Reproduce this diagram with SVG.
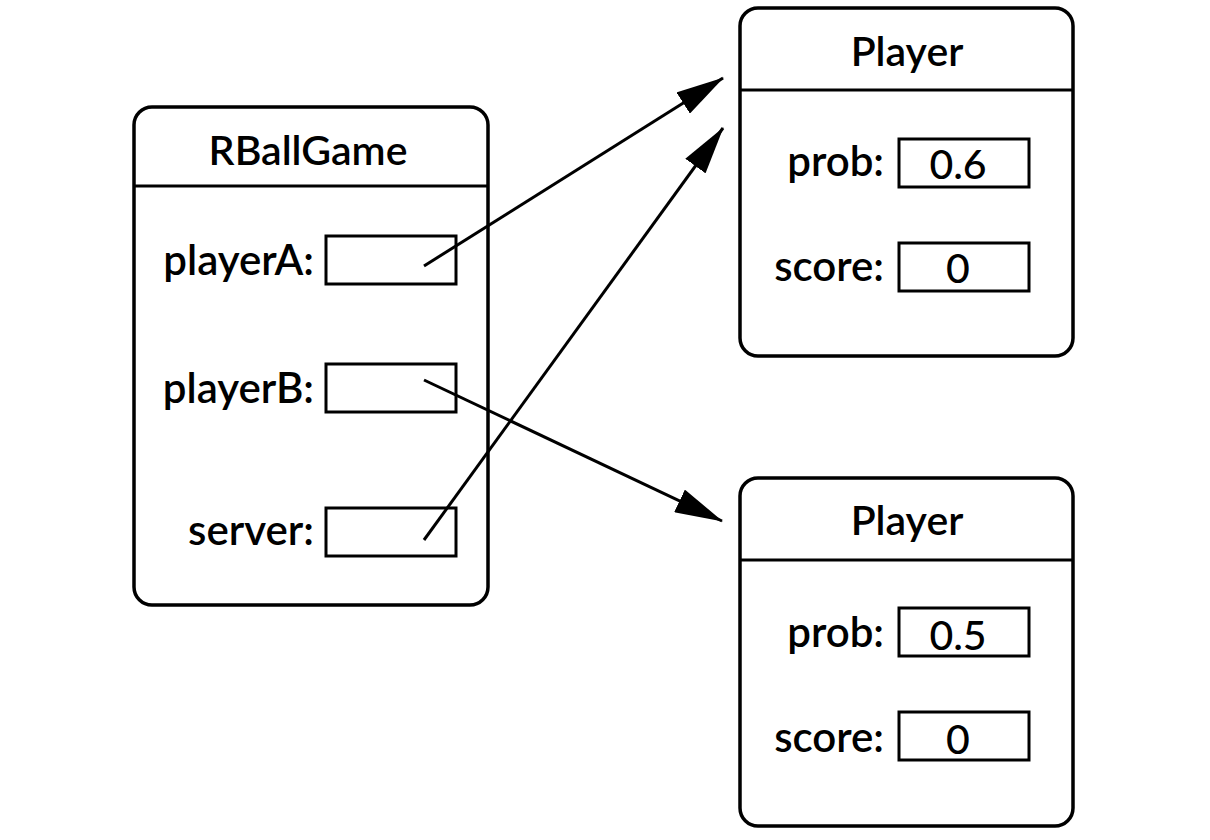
<svg xmlns="http://www.w3.org/2000/svg" width="1210" height="840" viewBox="0 0 1210 840">
<style>
.box{fill:#fff;stroke:#000;stroke-width:3.5}
.slot{fill:#fff;stroke:#000;stroke-width:3}
.div{stroke:#000;stroke-width:3}
text{font-family:Lato,"Open Sans","Liberation Sans",sans-serif;fill:#000;font-weight:600}
.t{font-size:41px;text-anchor:middle}
.l{font-size:42px;text-anchor:end}
.v{font-size:41px;text-anchor:middle;font-weight:500}
.conn{stroke:#000;stroke-width:3;fill:none;marker-end:url(#ah)}
</style>
<defs>
<marker id="ah" viewBox="0 0 48 25" refX="47" refY="12.5" markerWidth="48" markerHeight="25" markerUnits="userSpaceOnUse" orient="auto">
<path d="M0,0 L48,12.5 L0,25 z" fill="#000"/>
</marker>
</defs>
<rect width="1210" height="840" fill="#fff"/>
<g id="rballgame">
<rect class="box" x="134" y="107" width="354" height="498" rx="18"/>
<line class="div" x1="134" y1="186" x2="488" y2="186"/>
<text class="t" x="308" y="165">RBallGame</text>
<text class="l" x="314" y="275">playerA:</text>
<rect class="slot" x="326" y="236" width="130" height="48"/>
<text class="l" x="314" y="403">playerB:</text>
<rect class="slot" x="326" y="364" width="130" height="48"/>
<text class="l" x="314" y="545">server:</text>
<rect class="slot" x="326" y="508" width="130" height="48"/>
</g>
<g id="player1">
<rect class="box" x="740" y="8" width="333" height="348" rx="18"/>
<line class="div" x1="740" y1="90" x2="1073" y2="90"/>
<text class="t" x="907" y="66">Player</text>
<text class="l" x="884" y="176">prob:</text>
<rect class="slot" x="899" y="139" width="130" height="48"/>
<text class="v" x="958" y="179">0.6</text>
<text class="l" x="884" y="281">score:</text>
<rect class="slot" x="899" y="243" width="130" height="48"/>
<text class="v" x="958" y="283">0</text>
</g>
<g id="player2">
<rect class="box" x="740" y="478" width="333" height="348" rx="18"/>
<line class="div" x1="740" y1="560" x2="1073" y2="560"/>
<text class="t" x="907" y="535">Player</text>
<text class="l" x="884" y="647">prob:</text>
<rect class="slot" x="899" y="608" width="130" height="48"/>
<text class="v" x="958" y="650">0.5</text>
<text class="l" x="884" y="752">score:</text>
<rect class="slot" x="899" y="712" width="130" height="48"/>
<text class="v" x="958" y="754">0</text>
</g>
<g id="connectors">
<line class="conn" x1="424" y1="266" x2="723" y2="78"/>
<line class="conn" x1="424" y1="540" x2="723" y2="128"/>
<line class="conn" x1="424" y1="380" x2="722" y2="521"/>
</g>
</svg>
